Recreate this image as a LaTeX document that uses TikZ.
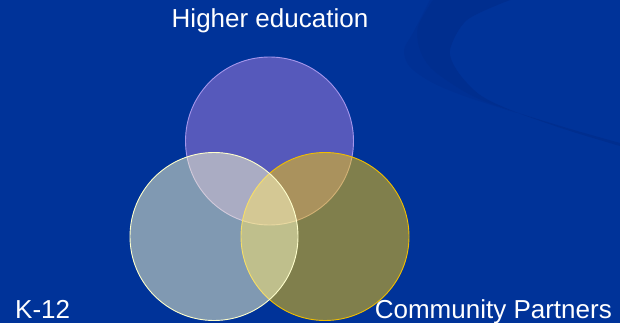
\documentclass[tikz,border=0pt]{standalone}
\usepackage{fontspec}
\setmainfont{Liberation Sans}
\definecolor{bgblue}{RGB}{0,51,153}
\definecolor{swirlA}{RGB}{0,46,143}
\definecolor{swirlB}{RGB}{0,48,148}
\definecolor{topfill}{RGB}{172,128,222}
\definecolor{topedge}{RGB}{165,150,235}
\definecolor{leftfill}{RGB}{255,255,204}
\definecolor{rightfill}{RGB}{255,204,0}
\definecolor{rightedge}{RGB}{240,190,0}
\tikzset{
  venn/.style={circle, minimum size=168pt, inner sep=0pt, fill opacity=0.5, line width=0.9pt},
  label/.style={text=white, font=\fontsize{26}{30}\selectfont, inner sep=0pt}
}
\begin{document}
\begin{tikzpicture}[x=1pt,y=-1pt]
\useasboundingbox (0,0) rectangle (620,323);
\fill[bgblue] (0,0) rectangle (620,323);
% decorative swirl
\fill[swirlB] plot[smooth] coordinates {(430,0)(413,33)(404,50)(410,67)(433,83)(467,97)(517,113)}
  -- plot[smooth] coordinates {(517,113)(483,100)(450,80)(425,55)(433,0)} -- cycle;
\fill[swirlA] plot[smooth] coordinates {(433,0)(418,27)(420,50)(433,70)(467,93)(500,107)(567,128)(620,143)}
  -- (620,146) -- plot[smooth] coordinates {(620,146)(567,130)(513,111)(480,95)(458,72)(450,50)(467,20)(510,0)} -- cycle;
% circles
\node[venn, fill=topfill, draw=topedge] (he) at (269.5,141) {};
\node[venn, fill=rightfill, draw=rightedge] (cp) at (325,236.5) {};
\node[venn, fill=leftfill, draw=leftfill] (k12) at (214,236.5) {};
% labels
\node[label, anchor=base] (lhe) at (270,28) {Higher education};
\node[label, anchor=base west] (lk) at (15,318) {K-12};
\node[label, anchor=base east] (lcp) at (612,318) {Community Partners};
\end{tikzpicture}
\end{document}
